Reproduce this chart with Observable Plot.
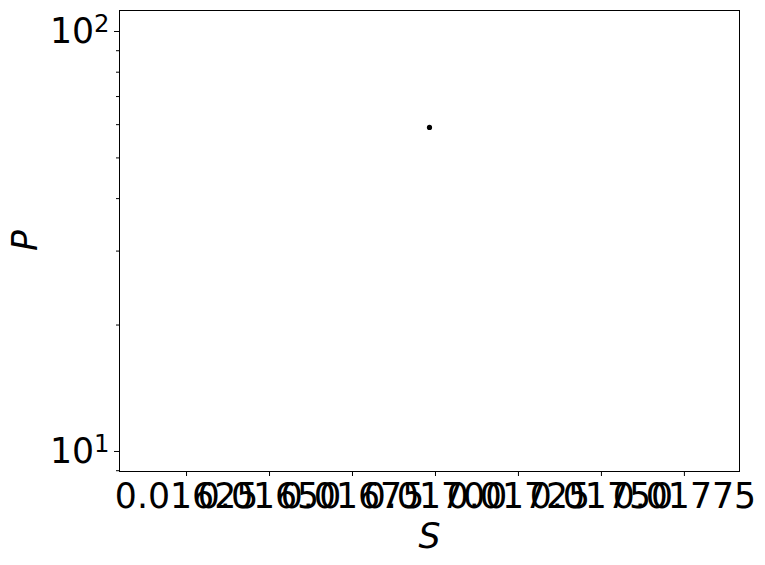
<!DOCTYPE html>
<html>
<head>
<meta charset="utf-8">
<script src="https://cdn.jsdelivr.net/npm/d3@7"></script>
<script src="https://cdn.jsdelivr.net/npm/@observablehq/plot@0.6"></script>
<style>
  html, body { margin: 0; padding: 0; background: #fff; }
  #chart svg { display: block; }
</style>
</head>
<body>
<div id="chart"></div>
<script>
const sValues = [0.016982];
const pValues = [59.1];
const xTicks = [0.01625, 0.0165, 0.01675, 0.017, 0.01725, 0.0175, 0.01775];
const yMajorTicks = [10, 100];
const yMinorTicks = [9, 20, 30, 40, 50, 60, 70, 80, 90];
const xDomain = [0.016048, 0.017916];
const yDomain = [8.96, 112.2];

const data = sValues.map((s, i) => ({S: s, P: pValues[i]}));
const FS = 34.7;

const chart = Plot.plot({
  width: 765,
  height: 565,
  marginLeft: 119,
  marginRight: 26,
  marginTop: 10,
  marginBottom: 94,
  style: {fontFamily: "DejaVu Sans", color: "black", background: "white"},
  x: {domain: xDomain, type: "linear"},
  y: {domain: yDomain, type: "log"},
  marks: [
    Plot.frame({stroke: "black", strokeWidth: 1}),
    Plot.axisX({ticks: xTicks, tickFormat: d => d.toFixed(5), tickSize: 5, tickPadding: 7, fontSize: FS, label: null, stroke: "black", fill: "black"}),
    Plot.axisY({ticks: yMajorTicks, tickFormat: d => String(Math.round(Math.log10(d))), tickSize: 5, tickPadding: 5, fontSize: FS, label: null, stroke: "black", fill: "black", className: "ymajor"}),
    Plot.axisY({ticks: yMinorTicks, tickFormat: () => "", tickSize: 3, label: null, stroke: "black"}),
    Plot.dot(data, {x: "S", y: "P", r: 2.6, fill: "black", stroke: null}),
    Plot.text(["S"], {frameAnchor: "bottom", dy: 76, fontSize: FS, fontStyle: "italic", fill: "black"}),
    Plot.text(["P"], {frameAnchor: "left", dx: -94, dy: 10, rotate: -90, fontSize: FS, fontStyle: "italic", fill: "black"})
  ]
});
document.getElementById("chart").appendChild(chart);

// render y major labels as 10 with superscript exponent
d3.select(chart).selectAll("g.ymajor text, g[aria-label='y-axis tick label'] text").each(function() {
  const t = d3.select(this);
  const exp = t.text();
  if (exp === "") return;
  t.text("");
  t.append("tspan").text("10");
  t.append("tspan").attr("dy", "-0.45em").attr("font-size", FS * 0.7).text(exp);
});
</script>
</body>
</html>
